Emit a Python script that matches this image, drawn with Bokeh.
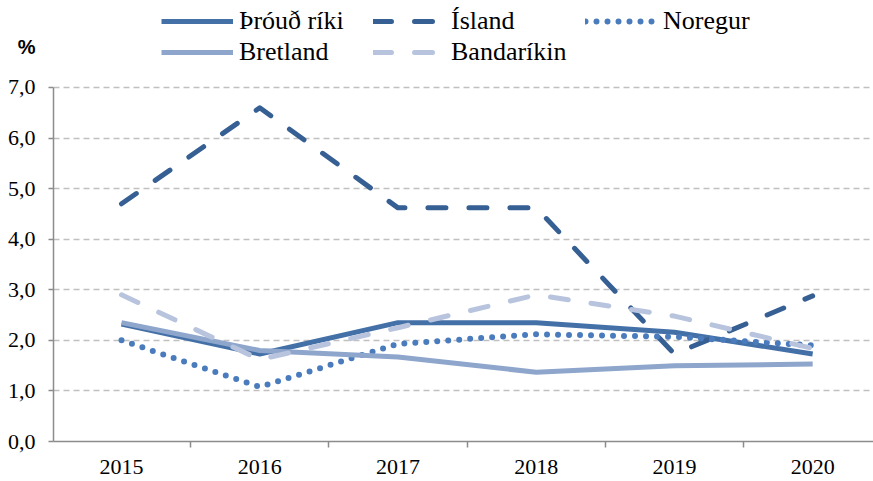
from bokeh.plotting import figure
from bokeh.models import (FixedTicker, Legend, LegendItem, LinearAxis, Range1d)
from bokeh.embed import file_html
from bokeh.resources import INLINE

years = [2015, 2016, 2017, 2018, 2019, 2020]
throud_riki = [2.32, 1.73, 2.35, 2.35, 2.16, 1.73]
island = [4.7, 6.6, 4.62, 4.62, 1.73, 2.88]
noregur = [2.0, 1.08, 1.93, 2.12, 2.07, 1.9]
bretland = [2.35, 1.8, 1.67, 1.37, 1.5, 1.53]
bandarikin = [2.9, 1.62, 2.25, 2.9, 2.48, 1.84]
y_ticks = [0, 1, 2, 3, 4, 5, 6, 7]
y_tick_labels = ["0,0", "1,0", "2,0", "3,0", "4,0", "5,0", "6,0", "7,0"]
unit_label = "%"

SERIF = "Liberation Serif"

p = figure(width=873, height=481, output_backend="svg", toolbar_location=None,
           x_range=Range1d(2014.508, 2020.44), y_range=Range1d(0, 8.72),
           min_border_left=53, min_border_right=0, min_border_top=0,
           min_border_bottom=40)
p.outline_line_color = None
p.background_fill_color = "white"

# grid
p.xgrid.grid_line_color = None
p.ygrid.grid_line_color = "#c0c0c0"
p.ygrid.grid_line_dash = "6 4"
p.ygrid.grid_line_width = 1.5

# x axis
p.xaxis.ticker = FixedTicker(ticks=years,
                             minor_ticks=[y - 0.5 for y in years] + [years[-1] + 0.5])
p.xaxis.major_tick_out = 0
p.xaxis.major_tick_in = 0
p.xaxis.minor_tick_out = 6
p.xaxis.minor_tick_in = 0
p.xaxis.minor_tick_line_color = "#8c8c8c"
p.xaxis.minor_tick_line_width = 1.5
p.xaxis.axis_line_color = "#8c8c8c"
p.xaxis.axis_line_width = 1.5
p.xaxis.major_label_text_font = SERIF
p.xaxis.major_label_text_font_size = "22px"
p.xaxis.major_label_text_color = "black"
p.xaxis.major_label_standoff = 12
p.xaxis.major_label_overrides = {y: str(y) for y in years}

# y axis
p.yaxis.ticker = FixedTicker(ticks=y_ticks, minor_ticks=[])
p.yaxis.bounds = (0, 7)
p.yaxis.major_label_overrides = {t: l for t, l in zip(y_ticks, y_tick_labels)}
p.yaxis.major_tick_out = 5
p.yaxis.major_tick_in = 0
p.yaxis.major_tick_line_color = "#8c8c8c"
p.yaxis.major_tick_line_width = 1.5
p.yaxis.axis_line_color = "#8c8c8c"
p.yaxis.axis_line_width = 1.5
p.yaxis.major_label_text_font = SERIF
p.yaxis.major_label_text_font_size = "22px"
p.yaxis.major_label_text_color = "black"
p.yaxis.major_label_standoff = 13

# unit label "%" as an outer axis label (nbsp nudges it right)
unit_axis = LinearAxis(ticker=FixedTicker(ticks=[7.8], minor_ticks=[]),
                       major_label_overrides={7.8: "\u00a0" + unit_label},
                       axis_line_color=None, major_tick_line_color=None,
                       minor_tick_line_color=None,
                       major_label_standoff=-37,
                       major_label_text_font="Liberation Sans",
                       major_label_text_font_style="bold",
                       major_label_text_font_size="20px",
                       major_label_text_color="black")
p.add_layout(unit_axis, "left")

series = [
    ("Þróuð ríki", throud_riki, "#4470a8", None, 5),
    ("Ísland", island, "#365f93", "18 23", 5),
    ("Noregur", noregur, "#4a7cbd", "0 11", 6),
    ("Bretland", bretland, "#8ea6cc", None, 5),
    ("Bandaríkin", bandarikin, "#b8c4de", "18 23", 5),
]
renderers = {}
for name, vals, color, dash, w in series:
    kw = dict(line_color=color, line_width=w, line_join="round")
    if dash:
        kw["line_dash"] = dash
        kw["line_cap"] = "round"
    r = p.line(years, vals, **kw)
    renderers[name] = r

def make_legend(names, y):
    lg = Legend(items=[LegendItem(label=n, renderers=[renderers[n]]) for n in names],
                orientation="horizontal", location=(108, y),
                glyph_width=72, glyph_height=20, label_width=124,
                label_standoff=6, spacing=10, padding=0, margin=0,
                border_line_alpha=0, background_fill_alpha=0,
                label_text_font=SERIF, label_text_font_size="26px",
                label_text_color="black")
    return lg

p.add_layout(make_legend(["Þróuð ríki", "Ísland", "Noregur"], 405))
p.add_layout(make_legend(["Bretland", "Bandaríkin"], 374))

open("out.html", "w").write(file_html(p, INLINE))
